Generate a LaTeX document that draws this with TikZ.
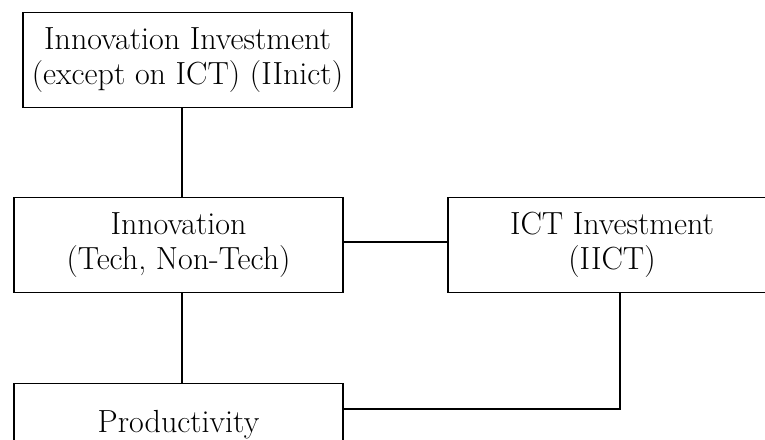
\documentclass[tikz,border=0pt]{standalone}
\usepackage{tikz}

\begin{document}
\begin{tikzpicture}[x=1pt,y=-1pt,
  block/.style={draw,line width=1.6pt,rectangle,minimum width=329pt,minimum height=95pt,
    align=center,inner sep=0pt,font=\fontsize{32}{35}\selectfont},
  link/.style={line width=1.6pt}]
\useasboundingbox (0,0) rectangle (765,439);
\clip (0,0) rectangle (765,439);

\node[block] (iinict) at (187.5,60) {Innovation Investment\\(except on ICT) (IInict)};
\node[block] (innov) at (178.5,245) {Innovation\\(Tech, Non-Tech)};
\node[block,minimum width=328pt] (iict) at (612,245) {ICT Investment\\(IICT)};
\node[block,text depth=20pt] (prod) at (178.5,431) {Productivity};

\coordinate (prodjoin) at ([yshift=22pt]prod.east);

\draw[link] ([xshift=-5.5pt]iinict.south) -- ([xshift=-5.5pt]iinict.south |- innov.north);
\draw[link] ([yshift=3pt]innov.east) -- ([yshift=3pt]innov.east -| iict.west);
\draw[link] ([xshift=3.5pt]innov.south) -- ([xshift=3.5pt]innov.south |- prod.north);
\draw[link] ([xshift=8pt]iict.south) |- (prodjoin);
\end{tikzpicture}
\end{document}
